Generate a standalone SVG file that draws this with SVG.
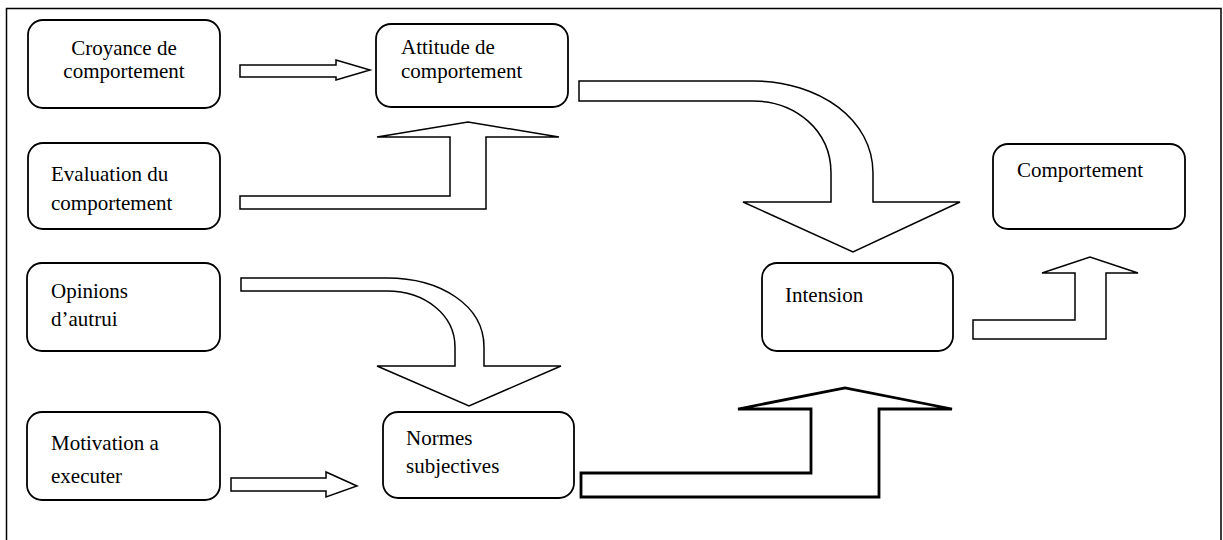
<svg xmlns="http://www.w3.org/2000/svg" width="1223" height="540" viewBox="0 0 1223 540">
<style>
.box{fill:#fff;stroke:#000;stroke-width:1.8}
.t{font-family:'Liberation Serif','Times New Roman',Tinos,Times,serif;font-size:21px;fill:#000}
.arr{fill:#fff;stroke:#000;stroke-width:1.5;stroke-linejoin:miter}
.arr2{fill:#fff;stroke:#000;stroke-width:2.8;stroke-linejoin:miter}
.frame{fill:none;stroke:#000;stroke-width:1.5}
</style>
<rect width="1223" height="540" fill="#fff"/>
<path class="frame" d="M6.5,540 V8.5 H1221 V540"/>
<g id="connectors">
<path class="arr" d="M240,65 H336 V60 L370,70 L336,80 V77 H240 Z"/>
<path class="arr" d="M240,196 H450 V137 H377 L468,122 L559,137 H486 V209 H240 Z"/>
<path class="arr" d="M579,81 H753 C820,81 873,120 873,173 V202 H960 L853,252 L743,202 H831 V173 C831,130 795,101 753,101 H579 Z"/>
<path class="arr" d="M241,278 H387 C440,278 484,305 484,347 V366 H561 L469,406 L377,366 H455 V347 C455,315 425,291 387,291 H241 Z"/>
<path class="arr" d="M231,478 H326 V472 L357,486 L326,497 V491 H231 Z"/>
<path class="arr2" d="M581,473 H811 V409 H738 L845,388 L952,409 H879 V497 H581 Z"/>
<path class="arr" d="M973,320 H1075 V273 H1042 L1090,257 L1138,273 H1106 V339 H973 Z"/>
</g>
<g id="croyance">
<rect class="box" x="28" y="20" width="192" height="88" rx="15"/>
<text class="t" x="124" y="55" text-anchor="middle">Croyance de</text>
<text class="t" x="124" y="78" text-anchor="middle">comportement</text>
</g>
<g id="attitude">
<rect class="box" x="376" y="24" width="192" height="83" rx="15"/>
<text class="t" x="401" y="54">Attitude de</text>
<text class="t" x="401" y="78">comportement</text>
</g>
<g id="evaluation">
<rect class="box" x="28" y="143" width="192" height="86" rx="15"/>
<text class="t" x="51" y="181">Evaluation du</text>
<text class="t" x="51" y="210">comportement</text>
</g>
<g id="opinions">
<rect class="box" x="27" y="263" width="193" height="88" rx="15"/>
<text class="t" x="51" y="298">Opinions</text>
<text class="t" x="51" y="326">d’autrui</text>
</g>
<g id="motivation">
<rect class="box" x="27" y="412" width="193" height="88" rx="15"/>
<text class="t" x="51" y="450">Motivation a</text>
<text class="t" x="51" y="483">executer</text>
</g>
<g id="normes">
<rect class="box" x="383" y="412" width="191" height="86" rx="15"/>
<text class="t" x="406" y="445">Normes</text>
<text class="t" x="406" y="473">subjectives</text>
</g>
<g id="intension">
<rect class="box" x="762" y="263" width="191" height="88" rx="15"/>
<text class="t" x="785" y="302">Intension</text>
</g>
<g id="comportement">
<rect class="box" x="993" y="144" width="192" height="85" rx="15"/>
<text class="t" x="1017" y="177">Comportement</text>
</g>
</svg>
